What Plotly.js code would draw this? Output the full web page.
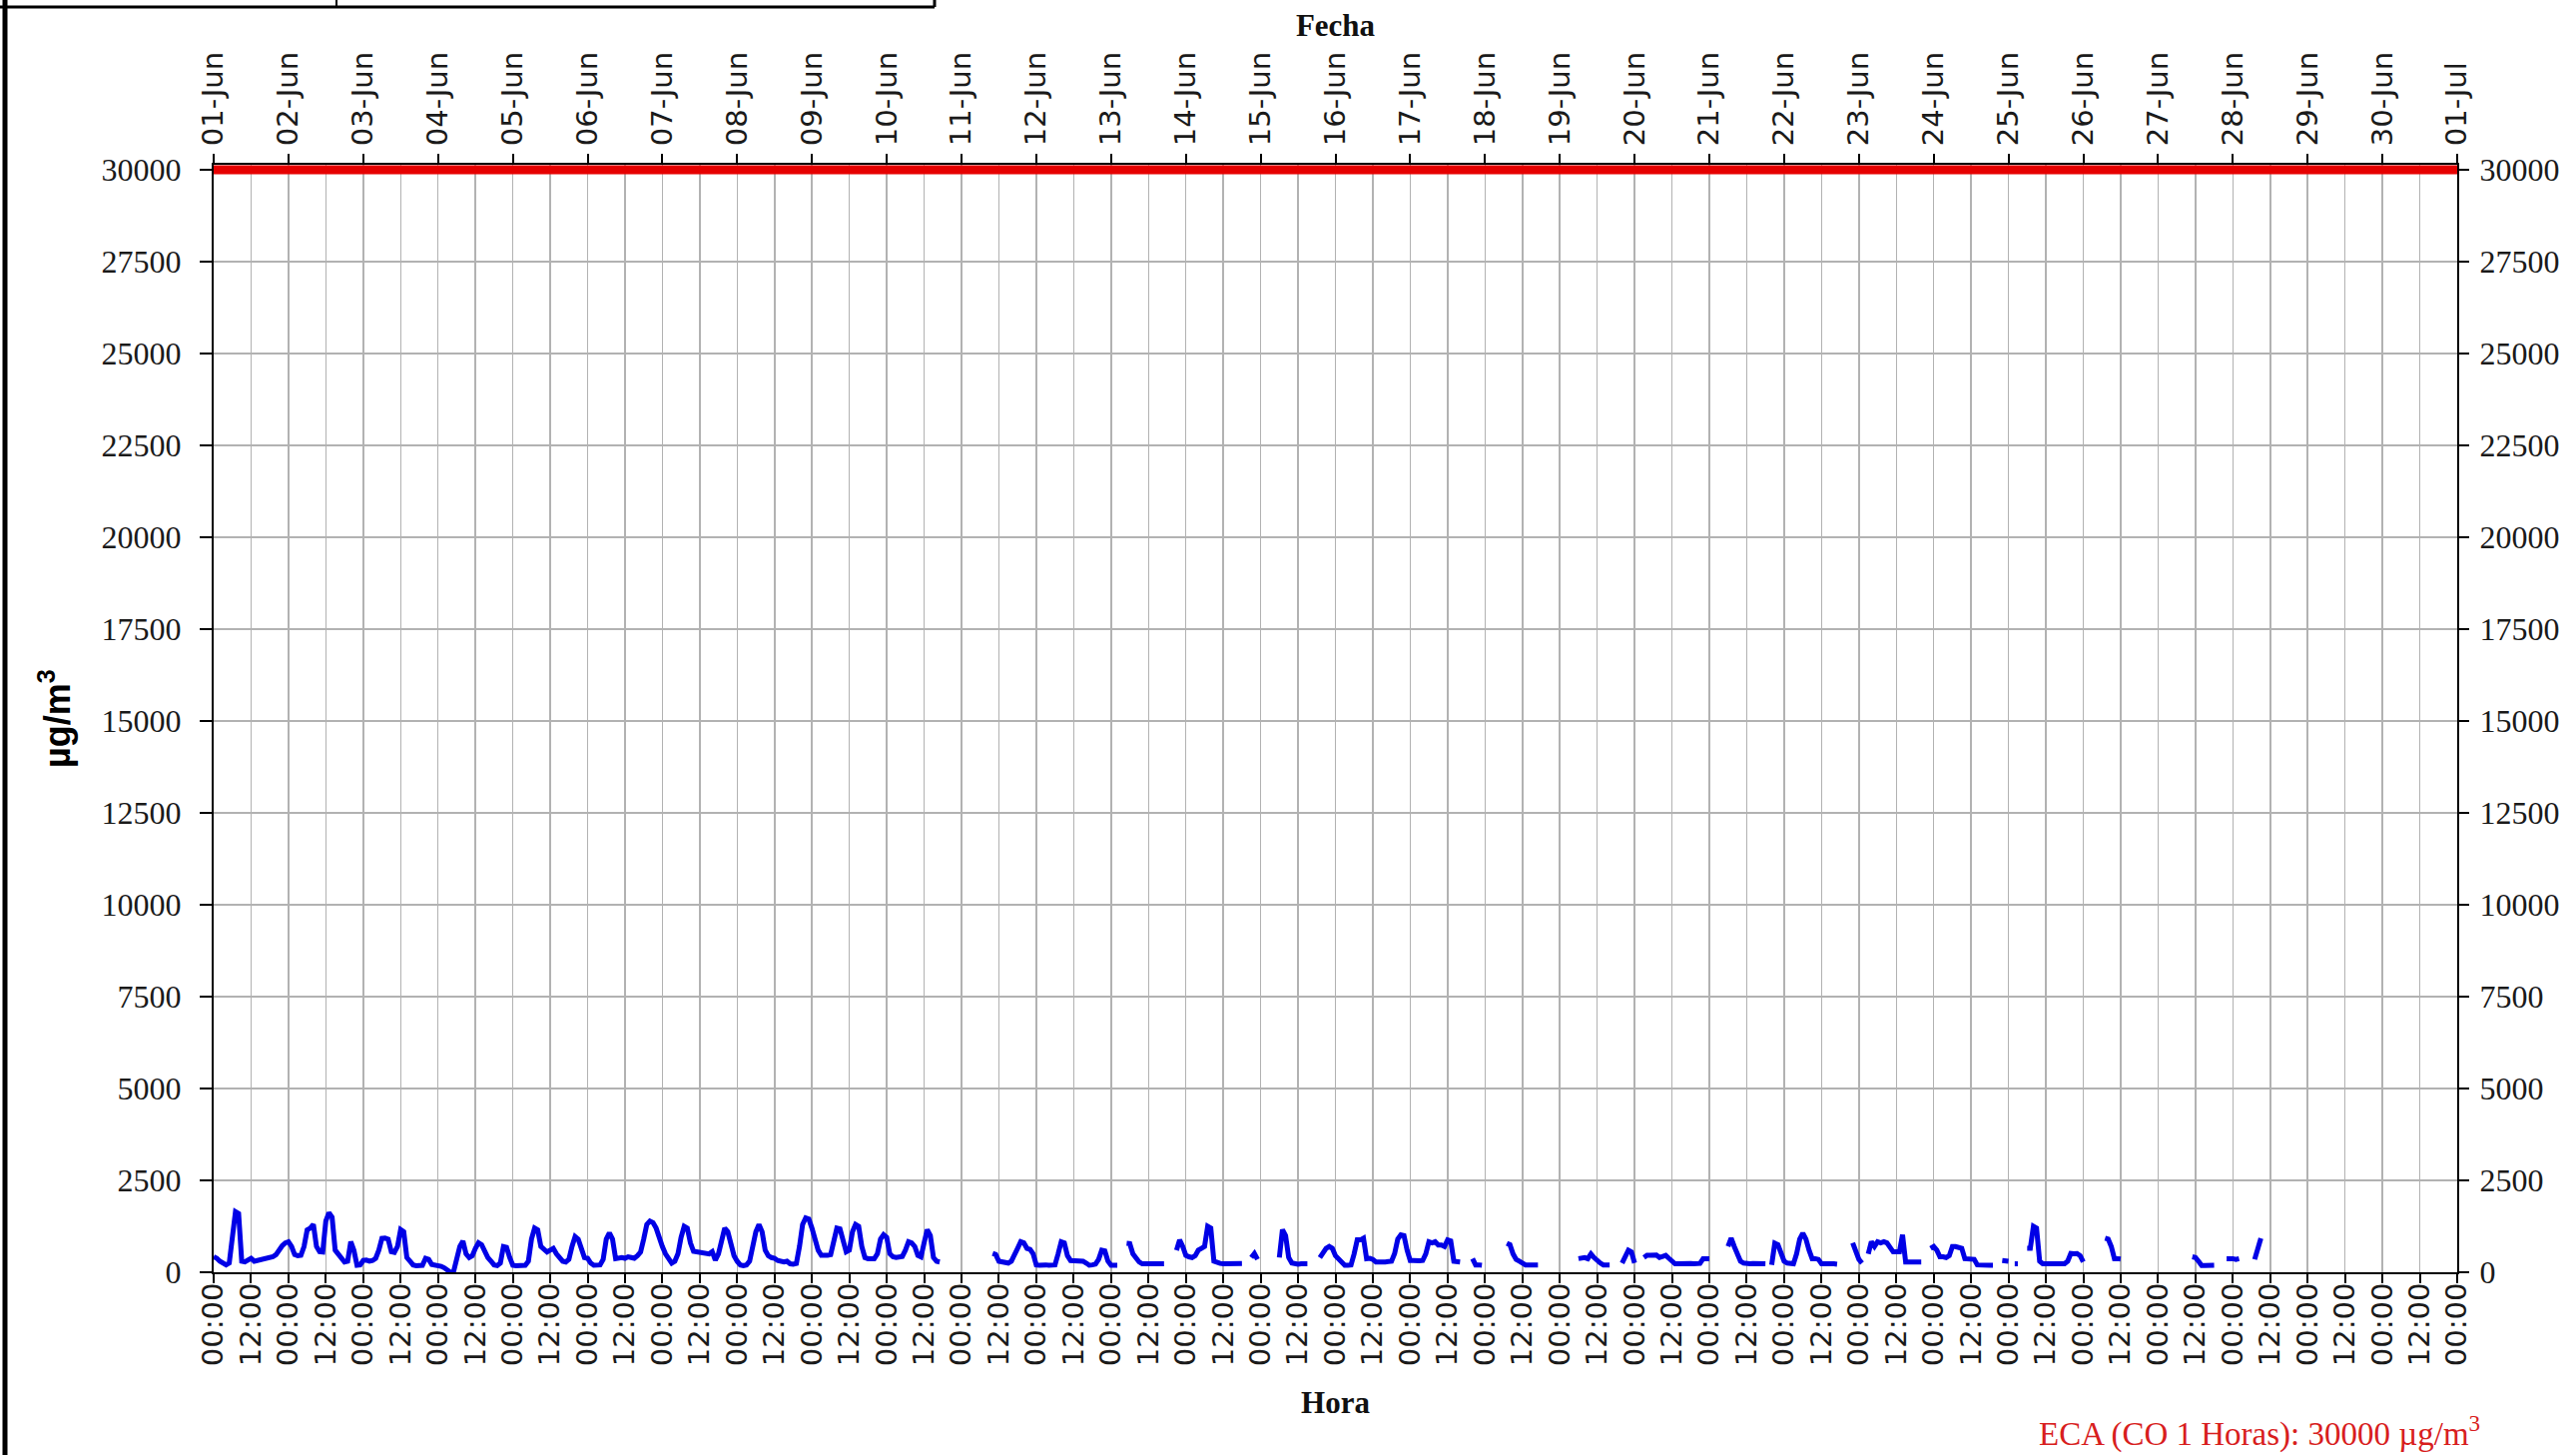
<!DOCTYPE html>
<html>
<head>
<meta charset="utf-8">
<script src="https://cdn.plot.ly/plotly-3.0.1.min.js"></script>
<style>
  html, body { margin: 0; padding: 0; background: #ffffff; }
  #chart { width: 2580px; height: 1457px; }
</style>
</head>
<body>
<div id="chart"></div>
<script>
// ---- Data: hourly CO concentration (µg/m³), June, one array per day (00:00..23:00) ----
const jun01 = [420,380,300,230,200,250,900,1650,1600,300,280,350,380,300,320,330,350,360,400,420,480,620,720,800];
const jun02 = [830,700,480,450,460,700,1150,1200,1300,700,560,550,1400,1620,1500,600,480,350,280,300,830,600,190,200];
const jun03 = [320,330,300,320,380,600,920,930,900,560,540,700,1160,1100,400,300,200,180,170,190,380,350,210,200];
const jun04 = [190,160,120,40,0,20,400,700,850,500,400,450,650,800,750,550,400,300,200,180,250,700,680,400];
const jun05 = [190,180,180,180,190,300,900,1200,1150,700,600,550,600,650,500,400,300,280,350,700,970,900,600,400];
const jun06 = [380,250,190,180,200,350,900,1070,900,370,400,400,380,420,400,380,450,550,900,1300,1390,1350,1200,900];
const jun07 = [700,500,350,250,300,500,950,1250,1200,800,570,560,560,540,520,500,560,330,500,900,1200,1100,700,450];
const jun08 = [300,200,180,200,300,700,1100,1300,1100,600,450,400,380,320,300,280,300,230,220,240,700,1300,1480,1450];
const jun09 = [1200,900,600,460,450,460,480,900,1200,1180,800,555,600,1100,1300,1250,700,400,370,360,370,500,900,1020];
const jun10 = [950,500,420,400,420,430,600,830,800,700,460,420,800,1160,1000,400,300,280,null,null,null,null,null,null];
const jun11 = [null,null,null,null,null,null,null,null,null,null,510,480,300,280,260,250,300,450,650,830,800,650,620,500];
const jun12 = [200,190,210,200,190,190,200,500,830,800,450,320,310,330,320,300,250,190,200,220,350,600,580,300];
const jun13 = [190,190,190,null,null,790,780,500,370,280,230,230,230,240,230,230,240,230,null,null,null,600,880,700];
const jun14 = [460,420,400,450,600,650,700,1250,1200,300,260,240,230,230,220,240,230,230,240,null,null,400,510,350];
const jun15 = [null,null,null,null,null,null,400,1160,1000,400,250,230,220,230,240,230,null,null,null,400,550,650,700,650];
const jun16 = [450,370,250,190,190,200,500,880,880,925,370,380,350,280,280,270,280,290,300,510,900,1020,1000,600];
const jun17 = [320,320,300,310,320,500,830,800,830,740,740,700,880,850,300,280,280,null,null,null,370,200,200,190];
const jun18 = [null,null,null,null,null,null,null,790,750,500,350,300,250,200,200,190,190,200,null,null,null,null,null,null];
const jun19 = [null,null,null,null,null,null,370,380,400,370,500,400,300,250,200,190,200,null,null,null,250,450,600,550];
const jun20 = [250,null,null,400,460,460,450,470,400,420,460,380,300,230,230,240,230,230,240,230,230,240,370,380];
const jun21 = [370,null,null,null,null,null,700,925,700,500,300,250,230,230,240,230,230,220,230,null,200,790,750,500];
const jun22 = [300,250,240,230,500,900,1065,900,600,370,370,350,230,220,230,230,230,220,null,null,null,null,800,600];
const jun23 = [350,250,null,500,830,700,830,800,830,800,700,555,555,555,1020,280,280,270,280,280,280,null,null,650];
const jun24 = [700,600,420,420,400,450,700,700,680,650,370,370,360,350,200,190,190,200,190,190,null,null,320,320];
const jun25 = [300,null,230,230,null,null,650,650,1250,1200,300,230,230,230,240,230,220,230,230,300,510,500,510,450];
const jun26 = [280,null,null,null,null,null,null,925,900,700,370,370,360,null,null,null,null,null,null,null,null,null,null,null];
const jun27 = [null,null,null,null,null,null,null,null,null,null,null,420,400,300,185,185,190,185,190,null,null,null,370,380];
const jun28 = [370,350,370,null,null,null,null,350,650,925,null,null,null,null,null,null,null,null,null,null,null,null,null,null];
const jun29 = [null,null,null,null,null,null,null,null,null,null,null,null,null,null,null,null,null,null,null,null,null,null,null,null];
const jun30 = [null,null,null,null,null,null,null,null,null,null,null,null,null,null,null,null,null,null,null,null,null,null,null,null];

const ecaLimit = 30000;                       // ECA (CO 1 Horas)
const periodStart = '2015-06-01 00:00';
const periodEnd   = '2015-07-01 00:00';
const yTickStep = 2500;

// ---- Build series ----
const days = [jun01,jun02,jun03,jun04,jun05,jun06,jun07,jun08,jun09,jun10,
              jun11,jun12,jun13,jun14,jun15,jun16,jun17,jun18,jun19,jun20,
              jun21,jun22,jun23,jun24,jun25,jun26,jun27,jun28,jun29,jun30];
const coValues = [].concat(...days);
function pad(n){ return (n < 10 ? '0' : '') + n; }
function fmt(d){
  return d.getUTCFullYear() + '-' + pad(d.getUTCMonth()+1) + '-' + pad(d.getUTCDate()) +
         ' ' + pad(d.getUTCHours()) + ':' + pad(d.getUTCMinutes());
}
const t0 = Date.UTC(2015, 5, 1, 0, 0);
const times = coValues.map((_, i) => fmt(new Date(t0 + i * 3600000)));

// ---- Page geometry (pixels) ----
const W = 2580, H = 1457;
const L = 214, R = 119, T = 165, B = 183;
const PW = W - L - R, PH = H - T - B;
const px = v => (v - L) / PW;
const py = v => (H - B - v) / PH;

const yTop = ecaLimit * (1 + 5 / (1274 - 169.5));

const traces = [
  {
    type: 'scatter', mode: 'lines', name: 'CO',
    x: times, y: coValues,
    xaxis: 'x', yaxis: 'y',
    line: { color: '#0000e6', width: 5 },
    connectgaps: false, hoverinfo: 'x+y', showlegend: false
  },
  {
    type: 'scatter', mode: 'lines', name: 'ECA',
    x: [periodStart, periodEnd], y: [ecaLimit, ecaLimit],
    xaxis: 'x2', yaxis: 'y2',
    line: { color: '#e60000', width: 9 },
    showlegend: false
  }
];

const tickFontX = { family: 'DejaVu Sans', size: 29, color: '#1a1a1a' };
const tickFontY = { family: 'Liberation Serif', size: 32, color: '#1a1a1a' };

const layout = {
  width: W, height: H,
  margin: { l: L, r: R, t: T, b: B, pad: 0 },
  paper_bgcolor: '#ffffff', plot_bgcolor: '#ffffff',
  showlegend: false,
  xaxis: {
    type: 'date', range: [periodStart, periodEnd], autorange: false,
    tick0: periodStart, dtick: 43200000, tickformat: '%H:%M',
    tickangle: -90, tickfont: tickFontX,
    ticks: 'outside', ticklen: 9, tickwidth: 2, tickcolor: '#000000',
    ticklabelstandoff: -12,
    showgrid: true, gridcolor: '#b2b2b2', gridwidth: 1.5,
    showline: true, linecolor: '#000000', linewidth: 2,
    zeroline: false, automargin: false,
    title: { text: 'Hora', standoff: 26,
             font: { family: 'Liberation Serif', size: 31, weight: 'bold', color: '#111111' } }
  },
  xaxis2: {
    type: 'date', overlaying: 'x', side: 'top',
    range: [periodStart, periodEnd], autorange: false,
    tick0: periodStart, dtick: 86400000, tickformat: '%d-%b',
    tickangle: -90, tickfont: tickFontX,
    ticks: 'outside', ticklen: 9, tickwidth: 2, tickcolor: '#000000',
    ticklabelstandoff: 2,
    showgrid: false, showline: true, linecolor: '#000000', linewidth: 2,
    zeroline: false, automargin: false,
    title: { text: 'Fecha', standoff: 6,
             font: { family: 'Liberation Serif', size: 31, weight: 'bold', color: '#111111' } }
  },
  yaxis: {
    range: [0, yTop], autorange: false, tickformat: 'd',
    tick0: 0, dtick: yTickStep, tickfont: tickFontY,
    ticks: 'outside', ticklen: 12, tickwidth: 2, tickcolor: '#000000',
    ticklabelstandoff: 12,
    showgrid: true, gridcolor: '#b2b2b2', gridwidth: 1.5,
    showline: true, linecolor: '#000000', linewidth: 2,
    zeroline: false, automargin: false,
    title: { text: 'µg/m<sup>3</sup>', standoff: 20,
             font: { family: 'Liberation Sans', size: 36, weight: 'bold', color: '#000000' } }
  },
  yaxis2: {
    overlaying: 'y', side: 'right',
    range: [0, yTop], autorange: false, tickformat: 'd',
    tick0: 0, dtick: yTickStep, tickfont: tickFontY,
    ticks: 'outside', ticklen: 10, tickwidth: 2, tickcolor: '#000000',
    ticklabelstandoff: 4,
    showgrid: false, showline: true, linecolor: '#000000', linewidth: 2,
    zeroline: false, automargin: false
  },
  annotations: [
    {
      xref: 'paper', yref: 'paper', x: px(2486), y: py(1457),
      xanchor: 'right', yanchor: 'bottom', showarrow: false,
      text: 'ECA (CO 1 Horas): ' + ecaLimit + ' µg/m<sup>3</sup>',
      font: { family: 'Liberation Serif', size: 33, color: '#d81e1e' }
    }
  ],
  shapes: [
    // outer frame (left edge) and the cut-off box at top-left
    { type: 'line', xref: 'paper', yref: 'paper', x0: px(5), x1: px(5), y0: py(0), y1: py(H),
      line: { color: '#000000', width: 5 } },
    { type: 'line', xref: 'paper', yref: 'paper', x0: px(0), x1: px(936), y0: py(7), y1: py(7),
      line: { color: '#000000', width: 3 } },
    { type: 'line', xref: 'paper', yref: 'paper', x0: px(936), x1: px(936), y0: py(-5), y1: py(7),
      line: { color: '#000000', width: 3 } },
    { type: 'line', xref: 'paper', yref: 'paper', x0: px(337), x1: px(337), y0: py(-5), y1: py(7),
      line: { color: '#000000', width: 2 } }
  ]
};

Plotly.newPlot('chart', traces, layout, { displayModeBar: false, staticPlot: true });
</script>
</body>
</html>
